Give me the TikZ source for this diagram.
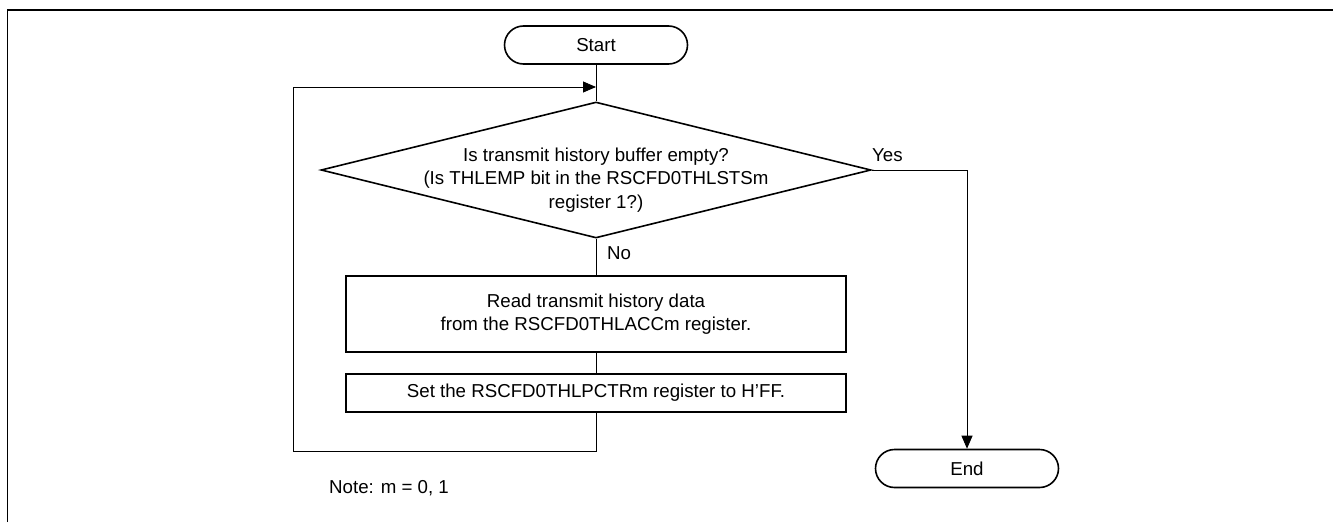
\documentclass[tikz,border=0pt]{standalone}
\usepackage{fontspec}
\setmainfont{Liberation Sans}
\usetikzlibrary{shapes.geometric,arrows.meta}
\begin{document}
\begin{tikzpicture}[x=1pt,y=-1pt,
  every node/.style={font=\fontsize{18.7}{23.5}\selectfont},
  term/.style={draw, line width=1.6pt, rounded corners=19pt, minimum width=183pt, minimum height=38pt, inner sep=0pt},
  proc/.style={draw, line width=1.6pt, minimum width=500pt, inner sep=0pt, align=center},
  dec/.style={draw, diamond, line width=1.6pt, minimum width=550pt, minimum height=136pt, inner sep=0pt},
  conn/.style={line width=0.9pt},
  arr/.style={conn, -{Triangle[length=13pt,width=11pt]}},
  lbl/.style={inner sep=0pt},
  frame/.style={line width=1.7pt}
]
\useasboundingbox (0,0) rectangle (1333,522);
\draw[frame] (7.5,522) -- (7.5,10) -- (1333,10);

\node[term] (start) at (596,45) {Start};
\node[dec] (d) at (596,170) {};
\node[align=center, inner sep=0pt] (dt) at (596,180) {Is transmit history buffer empty?\\(Is THLEMP bit in the RSCFD0THLSTSm\\register 1?)};
\node[proc, minimum height=76pt] (b1) at (596,314) {Read transmit history data\\from the RSCFD0THLACCm register.};
\node[proc, minimum height=38pt] (b2) at (596,393) {Set the RSCFD0THLPCTRm register to H’FF.};
\node[term] (end) at (967,468.5) {End};

\coordinate (lb) at (596,451);
\coordinate (lt) at (293,87);
\coordinate (j) at (596,87);
\coordinate (yc) at (967,170);

\draw[conn] (start.south) -- (d.north);
\draw[conn] (d.south) -- (b1.north);
\draw[conn] (b1.south) -- (b2.north);
\draw[arr] (b2.south) -- (lb) -| (lt) -- (j);
\draw[arr] (d.east) -- (yc) -- (end.north);

\node[lbl, anchor=west] (yes) at (872,155) {Yes};
\node[lbl, anchor=west] (no) at (607,253) {No};
\node[lbl, anchor=west] (note) at (329,488) {Note: m = 0, 1};
\end{tikzpicture}
\end{document}
